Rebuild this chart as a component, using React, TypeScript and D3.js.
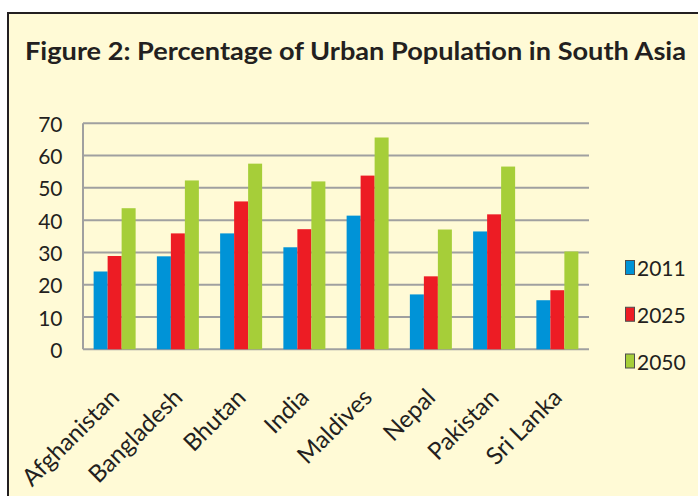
import React from "react";
import * as d3 from "d3";

const countries = ["Afghanistan", "Bangladesh", "Bhutan", "India", "Maldives", "Nepal", "Pakistan", "Sri Lanka"];
const series = ["2011", "2025", "2050"];
const v2011 = [24.1, 28.8, 35.9, 31.6, 41.4, 17.0, 36.5, 15.2];
const v2025 = [28.9, 35.9, 45.8, 37.2, 53.8, 22.6, 41.8, 18.3];
const v2050 = [43.7, 52.3, 57.5, 52.0, 65.6, 37.1, 56.6, 30.3];
const yTicks = [0, 10, 20, 30, 40, 50, 60, 70];
const colors = ["#0093D7", "#ED1C24", "#A6CE39"];
const title = "Figure 2: Percentage of Urban Population in South Asia";

const W = 698;
const H = 496;
const FONT = "Lato, 'Open Sans', sans-serif";

export default function App() {
  const values = [v2011, v2025, v2050];
  const x = d3.scaleBand<string>().domain(countries).range([83, 589]).paddingInner(0.336).paddingOuter(0.168);
  const xs = d3.scaleBand<string>().domain(series).range([0, x.bandwidth()]);
  const y = d3.scaleLinear().domain([0, 70]).range([349.3, 123.3]);
  const legendY = d3.scalePoint<string>().domain(series).range([267.5, 361]);

  return (
    <div style={{ position: "absolute", left: 0, top: 0, width: W, height: H, overflow: "hidden" }}>
      <svg width={W} height={H} style={{ display: "block" }}>
        <rect x={0} y={0} width={W} height={H} fill="#ffffff" />
        <rect x={8} y={13} width={W + 20} height={H + 20} fill="#FFFAD6" stroke="#231F20" strokeWidth={2} />
        <text x={25} y={60} fontFamily={FONT} fontWeight={700} fontSize={24} fill="#231F20" textLength={661} lengthAdjust="spacingAndGlyphs">
          {title}
        </text>
        {yTicks.map((t) => (
          <g key={t}>
            <line x1={83} x2={589} y1={y(t)} y2={y(t)} stroke="#A0A0A0" strokeWidth={2} />
            <text x={62.5} y={y(t)} textAnchor="end" dominantBaseline="central" fontFamily={FONT} fontSize={21} fill="#231F20">
              {t}
            </text>
          </g>
        ))}
        <line x1={83} x2={83} y1={y(70)} y2={y(0)} stroke="#A0A0A0" strokeWidth={2} />
        {countries.map((c, i) => (
          <g key={c}>
            {series.map((s, j) => (
              <rect
                key={s}
                x={(x(c) as number) + (xs(s) as number)}
                y={y(values[j][i])}
                width={xs.bandwidth()}
                height={y(0) - y(values[j][i])}
                fill={colors[j]}
              />
            ))}
            <text
              transform={`translate(${(x(c) as number) + x.bandwidth() / 2 + 6},399) rotate(-45)`}
              textAnchor="end"
              fontFamily={FONT}
              fontSize={24}
              fill="#231F20"
            >
              {c}
            </text>
          </g>
        ))}
        {series.map((s, j) => (
          <g key={s}>
            <rect x={625.5} y={(legendY(s) as number) - 7} width={9} height={14} fill={colors[j]} stroke="#4D4D4D" strokeWidth={1} />
            <text x={637} y={legendY(s) as number} dominantBaseline="central" fontFamily={FONT} fontSize={21} fill="#231F20">
              {s}
            </text>
          </g>
        ))}
      </svg>
    </div>
  );
}
